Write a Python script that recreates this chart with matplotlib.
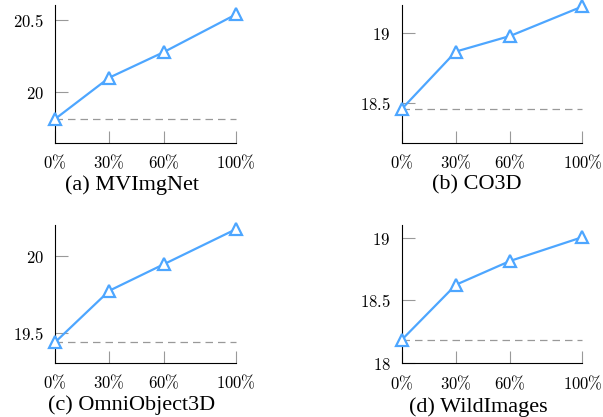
import matplotlib.pyplot as plt

plt.rcParams['mathtext.fontset'] = 'cm'

ratios = [0, 30, 60, 100]
xlabels = [r'$0\%$', r'$30\%$', r'$60\%$', r'$100\%$']

mvimgnet = [19.815, 20.10, 20.275, 20.535]
co3d = [18.453, 18.866, 18.978, 19.19]
omni = [19.442, 19.775, 19.945, 20.172]
wild = [18.185, 18.625, 18.815, 19.005]

captions = ['(a) MVImgNet', '(b) CO3D', '(c) OmniObject3D', '(d) WildImages']
series = [mvimgnet, co3d, omni, wild]
yticks = [[20, 20.5], [18.5, 19], [19.5, 20], [18, 18.5, 19]]
yticklabels = [['$20$', '$20.5$'], ['$18.5$', '$19$'], ['$19.5$', '$20$'],
               ['$18$', '$18.5$', '$19$']]
ylims = [(19.65, 20.60), (18.21, 19.2), (19.31, 20.198), (18.0, 19.1)]

boxes = [[0.0912, 0.657, 0.300, 0.331],
         [0.666, 0.657, 0.300, 0.331],
         [0.0912, 0.130, 0.300, 0.330],
         [0.666, 0.129, 0.300, 0.331]]
cap_pos = [(132 / 603, 1 - 185 / 417), (477 / 603, 1 - 185 / 417),
           (132 / 603, 1 - 405 / 417), (478 / 603, 1 - 407 / 417)]

blue = '#4da6ff'

fig = plt.figure(figsize=(6.03, 4.17), dpi=100)
for i in range(4):
    ax = fig.add_axes(boxes[i])
    vals = series[i]
    ax.plot(ratios, [vals[0]] * len(ratios), color='#999999', linestyle=(0, (6, 4)),
            linewidth=0.9, clip_on=False)
    ax.plot(ratios, vals, color=blue, linewidth=1.6, marker='^', markersize=8,
            markerfacecolor='white', markeredgecolor=blue, markeredgewidth=1.6,
            clip_on=False, zorder=5)
    ax.set_xlim(0, 100)
    ax.set_ylim(*ylims[i])
    ax.set_xticks(ratios)
    ax.set_xticklabels(xlabels)
    ax.set_yticks(yticks[i])
    ax.set_yticklabels(yticklabels[i])
    ax.spines['top'].set_visible(False)
    ax.spines['right'].set_visible(False)
    ax.spines['left'].set_linewidth(0.8)
    ax.spines['bottom'].set_linewidth(0.8)
    ax.tick_params(direction='in', length=9, width=0.8, color='#999999',
                   labelsize=12, pad=8)
    fig.text(cap_pos[i][0], cap_pos[i][1], captions[i], ha='center', va='center',
             fontsize=16, family='Liberation Serif')

fig.savefig('out.png', dpi=100)
